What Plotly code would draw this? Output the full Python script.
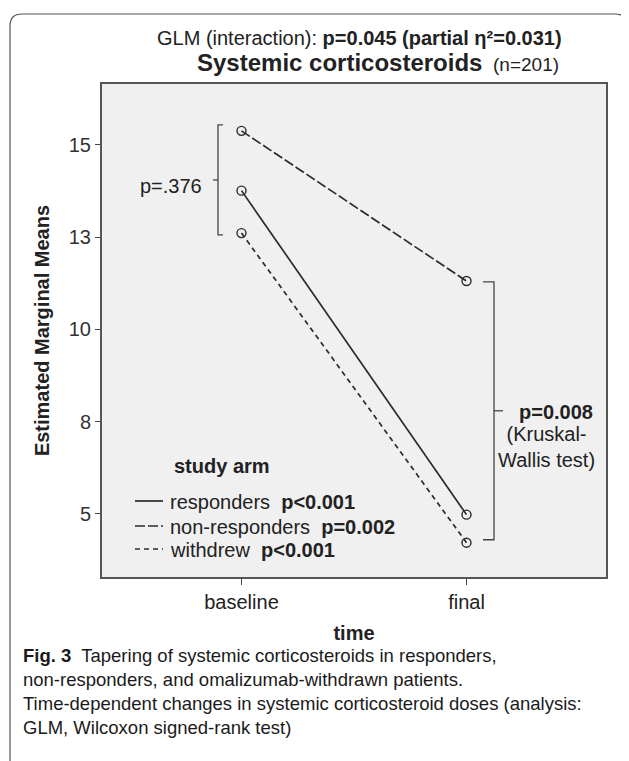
import plotly.graph_objects as go

# ---- data ----
time_labels = ["baseline", "final"]
responders = [13.76, 4.98]
non_responders = [15.38, 11.31]
withdrew = [12.61, 4.22]
series_names = ["responders", "non-responders", "withdrew"]
series_p = ["p&lt;0.001", "p=0.002", "p&lt;0.001"]
ytick_vals = [5, 7.5, 10, 12.5, 15]
ytick_text = ["5", "8", "10", "13", "15"]

OFF = 8                      # browser body margin
W, H = 629, 761              # page size
L, R, T, B = 102, 606, 84, 577  # plot area (page pixels)


def px(x):
    return (x - L) / (R - L)


def py(y):
    return (B - y) / (B - T)


FONT = "Liberation Sans, Arial, sans-serif"
INK = "#222222"
LINE = "#2b2b2b"

dashes = ["solid", "10px,3px", "5px,4px"]
values = [responders, non_responders, withdrew]

fig = go.Figure()
for name, vals, d in zip(series_names, values, dashes):
    fig.add_trace(go.Scatter(
        x=time_labels, y=vals, mode="lines+markers", name=name,
        line=dict(color=LINE, width=1.7, dash=d),
        marker=dict(symbol="circle-open", size=9, color=LINE, line=dict(width=1.4, color=LINE)),
        showlegend=False,
    ))

shapes = []
annotations = []

# outer rounded frame
x0, x1, y0, y1 = px(10), px(627), py(14), py(775)
rx, ry = 12 / (R - L), 12 / (B - T)
shapes.append(dict(
    type="path", xref="paper", yref="paper",
    path=(f"M {x0},{y1} L {x0},{y0 - ry} Q {x0},{y0} {x0 + rx},{y0} "
          f"L {x1 - rx},{y0} Q {x1},{y0} {x1},{y0 - ry} L {x1},{y1}"),
    line=dict(color="#555555", width=1.2),
))

# left bracket (baseline values)
bl = [v[0] for v in values]
top, bot = max(bl) + 0.16, min(bl) - 0.05
bx = px(218)
tk = 5 / (R - L)
shapes.append(dict(
    type="path", xref="paper", yref="y",
    path=f"M {bx + tk},{top} L {bx},{top} L {bx},{bot} L {bx + tk},{bot}",
    line=dict(color="#444444", width=1.3),
))
mid = (top + bot) / 2
shapes.append(dict(type="line", xref="paper", yref="y", x0=bx - tk, x1=bx, y0=mid, y1=mid,
                   line=dict(color="#444444", width=1.3)))
annotations.append(dict(xref="paper", yref="paper", x=px(204), y=py(186), text="p=.376",
                        showarrow=False, xanchor="right", yanchor="middle",
                        font=dict(family=FONT, size=20, color=INK)))

# right bracket (final values)
fl = [v[1] for v in values]
top2, bot2 = max(fl) - 0.02, min(fl) + 0.08
bx2 = px(494)
tk2 = 11 / (R - L)
shapes.append(dict(
    type="path", xref="paper", yref="y",
    path=f"M {bx2 - tk2},{top2} L {bx2},{top2} L {bx2},{bot2} L {bx2 - tk2},{bot2}",
    line=dict(color="#444444", width=1.3),
))
mid2 = (top2 + bot2) / 2
shapes.append(dict(type="line", xref="paper", yref="y", x0=bx2, x1=bx2 + 9 / (R - L), y0=mid2, y1=mid2,
                   line=dict(color="#444444", width=1.3)))
annotations.append(dict(xref="paper", yref="paper", x=px(556), y=py(412), text="<b>p=0.008</b>",
                        showarrow=False, xanchor="center", yanchor="middle",
                        font=dict(family=FONT, size=20, color=INK)))
annotations.append(dict(xref="paper", yref="paper", x=px(546), y=py(447),
                        text="(Kruskal-<br>Wallis test)",
                        showarrow=False, xanchor="center", yanchor="middle", align="center",
                        font=dict(family=FONT, size=20, color=INK)))

# legend (manual)
annotations.append(dict(xref="paper", yref="paper", x=px(172), y=py(466), text="<b>study arm</b>",
                        showarrow=False, xanchor="left", yanchor="middle",
                        font=dict(family=FONT, size=20, color=INK)))
leg_y = [501, 526, 549]
for name, p, d, yy in zip(series_names, series_p, dashes, leg_y):
    shapes.append(dict(type="line", xref="paper", yref="paper", x0=px(135), x1=px(163),
                       y0=py(yy), y1=py(yy), line=dict(color=LINE, width=1.7, dash=d)))
    annotations.append(dict(xref="paper", yref="paper", x=px(168), y=py(yy + 1),
                            text=f"{name}  <b>{p}</b>",
                            showarrow=False, xanchor="left", yanchor="middle",
                            font=dict(family=FONT, size=20, color=INK)))

# titles
annotations.append(dict(xref="paper", yref="paper", x=px(359), y=py(38),
                        text="GLM (interaction): <b>p=0.045 (partial η²=0.031)</b>",
                        showarrow=False, xanchor="center", yanchor="middle",
                        font=dict(family=FONT, size=20, color=INK)))
annotations.append(dict(xref="paper", yref="paper", x=px(378), y=py(62),
                        text="<b><span style='font-size:24px'>Systemic corticosteroids</span></b>  (n=201)",
                        showarrow=False, xanchor="center", yanchor="middle",
                        font=dict(family=FONT, size=19, color=INK)))

# caption
cap_lines = [
    "<b>Fig. 3</b>  Tapering of systemic corticosteroids in responders,",
    "non-responders, and omalizumab-withdrawn patients.",
    "Time-dependent changes in systemic corticosteroid doses (analysis:",
    "GLM, Wilcoxon signed-rank test)",
]
for i, t in enumerate(cap_lines):
    annotations.append(dict(xref="paper", yref="paper", x=px(21), y=py(655 + 24 * i), text=t,
                            showarrow=False, xanchor="left", yanchor="middle",
                            font=dict(family=FONT, size=18.5, color="#1a1a1a")))

fig.update_layout(
    width=W - OFF, height=H - OFF,
    margin=dict(l=L - OFF, r=W - R, t=T - OFF, b=H - B),
    paper_bgcolor="white",
    plot_bgcolor="#f0f0f0",
    font=dict(family=FONT, color=INK),
    shapes=shapes,
    annotations=annotations,
    xaxis=dict(
        type="category", range=[-0.62, 1.62], showgrid=False, zeroline=False,
        showline=True, linecolor="#555555", linewidth=2, mirror=True,
        ticks="outside", ticklen=6, tickwidth=1.3, tickcolor="#444444",
        tickfont=dict(family=FONT, size=20, color=INK),
        title=dict(text="<b>time</b>", font=dict(family=FONT, size=20, color=INK), standoff=14),
    ),
    yaxis=dict(
        range=[3.29, 16.65], showgrid=False, zeroline=False,
        tickvals=ytick_vals, ticktext=ytick_text,
        showline=True, linecolor="#555555", linewidth=2, mirror=True,
        ticks="outside", ticklen=5, tickwidth=1.3, tickcolor="#444444",
        tickfont=dict(family=FONT, size=20, color="#333333"),
        title=dict(text="<b>Estimated Marginal Means</b>", font=dict(family=FONT, size=20, color=INK), standoff=14),
    ),
)

fig.write_html("out.html")
